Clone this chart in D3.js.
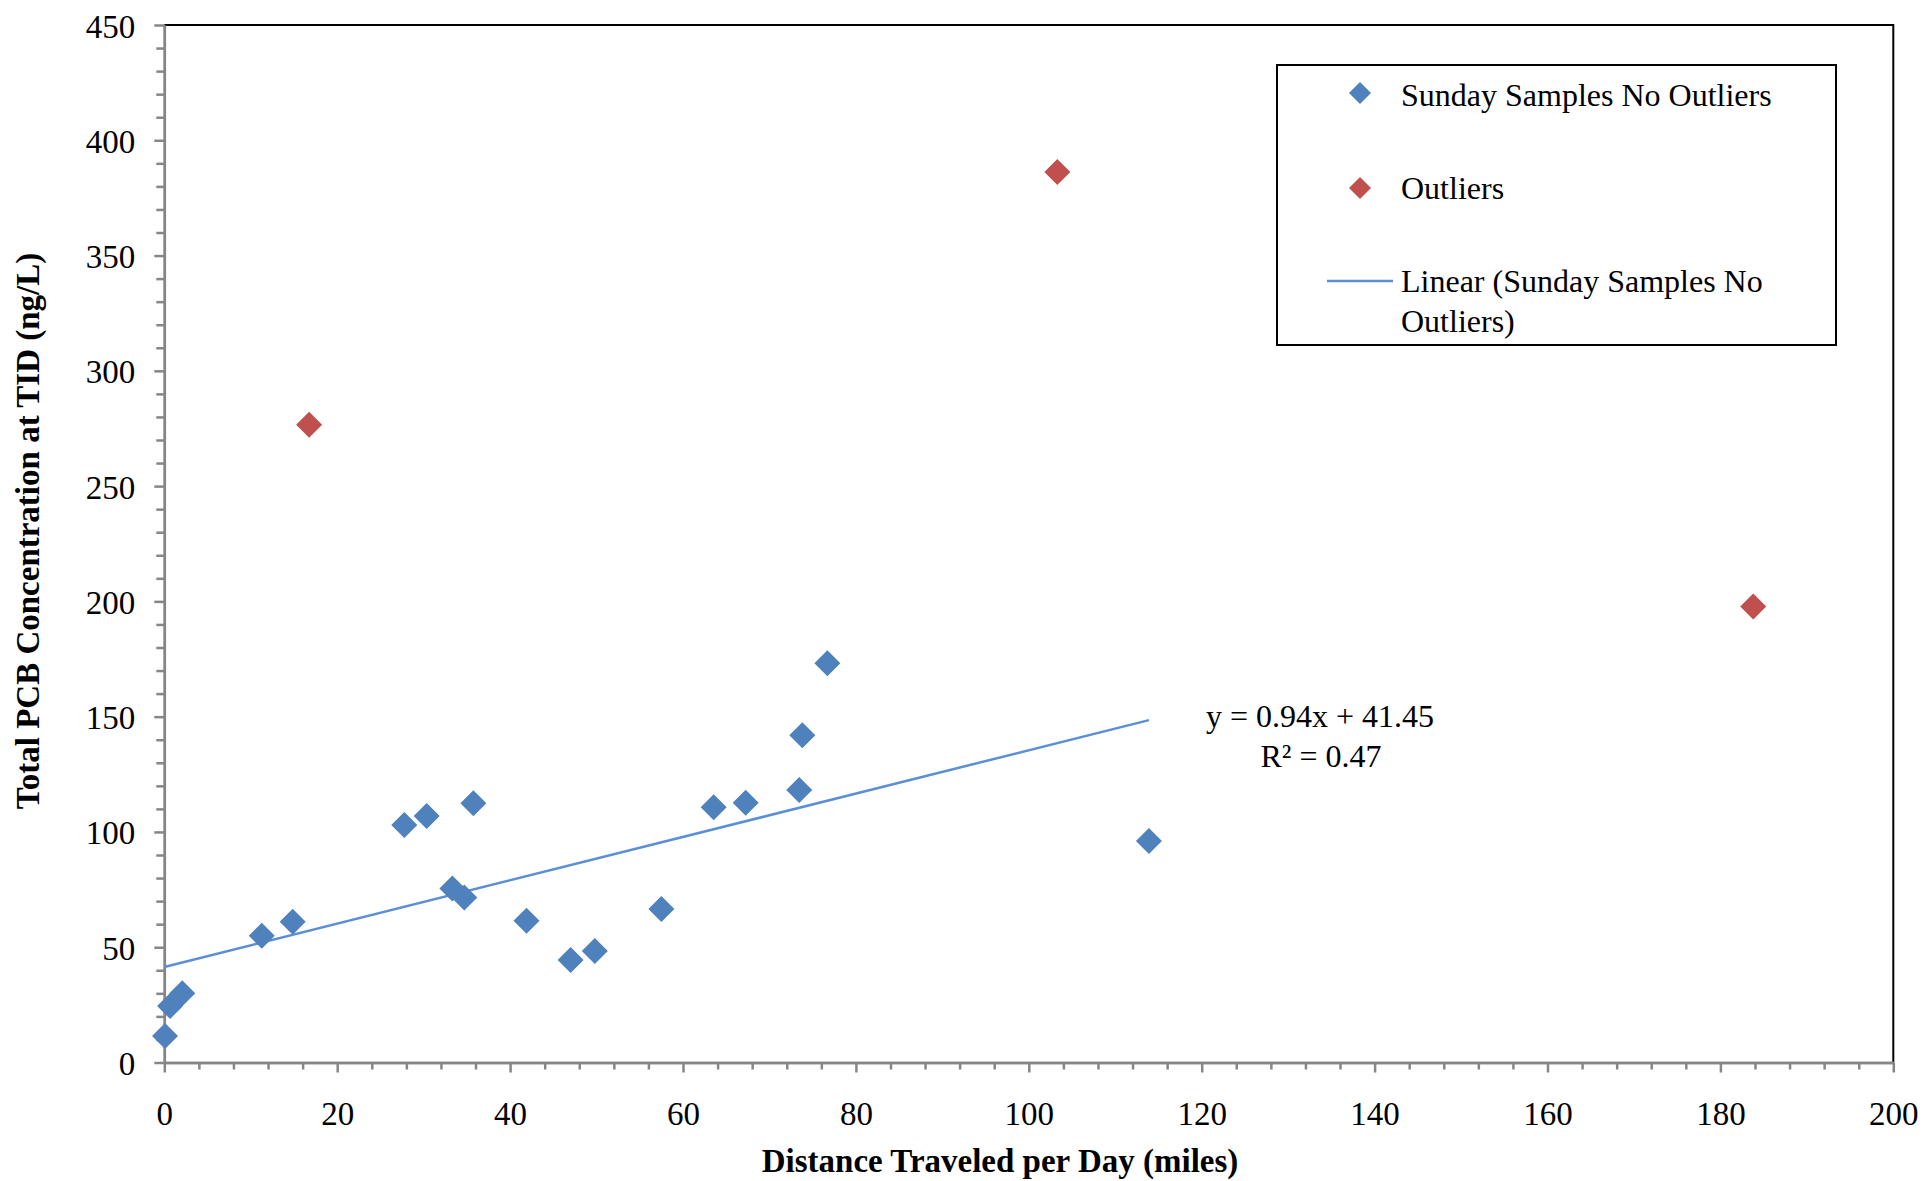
<!DOCTYPE html>
<html>
<head>
<meta charset="utf-8">
<script src="https://cdn.jsdelivr.net/npm/d3@7"></script>
<style>
  html, body { margin: 0; padding: 0; background: #fff; }
  svg { display: block; font-family: "Liberation Serif", "Times New Roman", serif; }
  svg text { font-family: "Liberation Serif", "Times New Roman", serif; }
</style>
</head>
<body>
<svg id="chart" width="1925" height="1181"></svg>
<script>
// ---------- data ----------
const sundayX = [0.08, 0.67, 2.08, 11.27, 14.85, 27.76, 30.35, 35.75, 33.32, 34.7, 41.9, 47.0, 49.8, 57.5, 63.55, 67.25, 73.45, 73.8, 76.7, 113.9];
const sundayY = [11.5, 24.5, 30.0, 55.0, 61.1, 103.0, 106.9, 112.4, 75.5, 71.6, 61.5, 44.5, 48.4, 66.6, 110.7, 112.7, 118.2, 141.9, 173.2, 96.1];
const outlierX = [16.75, 103.3, 183.8];
const outlierY = [276.6, 386.2, 197.8];
const trendSlope = 0.94;
const trendIntercept = 41.45;
const trendR2 = 0.47;
const xMajorTicks = [0, 20, 40, 60, 80, 100, 120, 140, 160, 180, 200];
const yMajorTicks = [0, 50, 100, 150, 200, 250, 300, 350, 400, 450];
const xMinorStep = 4;
const yMinorStep = 10;
const xTitle = "Distance Traveled per Day (miles)";
const yTitle = "Total PCB Concentration at TID (ng/L)";
const legendLabels = ["Sunday Samples No Outliers", "Outliers", ["Linear (Sunday Samples No", "Outliers)"]];

// ---------- styles ----------
const BLUE = "#4F81BD", RED = "#C0504D", TREND = "#5A8FD8", AXIS = "#868686";
const SERIF = "Liberation Serif, Times New Roman, serif";

const svg = d3.select("#chart");
svg.append("rect").attr("width", 1925).attr("height", 1181).attr("fill", "#fff");

const x = d3.scaleLinear().domain([0, 200]).range([164.3, 1893.3]);
const y = d3.scaleLinear().domain([0, 450]).range([1062.5, 25]);

// plot border (top/right)
svg.append("path")
  .attr("d", `M${x(0)},${y(450)}H${x(200)}V${y(0)}`)
  .attr("fill", "none").attr("stroke", "#000").attr("stroke-width", 2);

// minor ticks
const xMinor = d3.range(0, 200 + 0.001, xMinorStep).filter(v => !xMajorTicks.includes(v));
const yMinor = d3.range(0, 450 + 0.001, yMinorStep).filter(v => !yMajorTicks.includes(v));

const gxMinor = svg.append("g").attr("transform", `translate(0,${y(0)})`)
  .call(d3.axisBottom(x).tickValues(xMinor).tickSize(7).tickSizeOuter(0).tickFormat(""));
const gyMinor = svg.append("g").attr("transform", `translate(${x(0)},0)`)
  .call(d3.axisLeft(y).tickValues(yMinor).tickSize(8).tickSizeOuter(0).tickFormat(""));

const gx = svg.append("g").attr("transform", `translate(0,${y(0)})`)
  .call(d3.axisBottom(x).tickValues(xMajorTicks).tickSize(10).tickSizeOuter(0).tickFormat(d3.format("d")));
const gy = svg.append("g").attr("transform", `translate(${x(0)},0)`)
  .call(d3.axisLeft(y).tickValues(yMajorTicks).tickSize(10).tickSizeOuter(0).tickFormat(d3.format("d")));

[gxMinor, gyMinor, gx, gy].forEach(g => {
  g.attr("font-family", SERIF).attr("font-size", 33);
  g.selectAll("path.domain").attr("stroke", AXIS).attr("stroke-width", 2.5);
  g.selectAll(".tick line").attr("stroke", AXIS).attr("stroke-width", 2.5);
});
gx.selectAll(".tick text").attr("y", 62).attr("dy", 0).attr("fill", "#000");
gy.selectAll(".tick text").attr("x", -29).attr("dy", 0).attr("y", 12).attr("fill", "#000");

// trendline
const xMax = d3.max(sundayX);
svg.append("path")
  .datum([0, xMax])
  .attr("d", d3.line().x(d => x(d)).y(d => y(trendSlope * d + trendIntercept)))
  .attr("fill", "none").attr("stroke", TREND).attr("stroke-width", 2.5);

// diamonds
const diamond = d3.symbol().type(d3.symbolSquare).size(338);
const sunday = sundayX.map((v, i) => ({x: v, y: sundayY[i]}));
const outliers = outlierX.map((v, i) => ({x: v, y: outlierY[i]}));
svg.append("g").selectAll("path").data(sunday).join("path")
  .attr("d", diamond)
  .attr("transform", d => `translate(${x(d.x)},${y(d.y)}) rotate(45)`)
  .attr("fill", BLUE);
svg.append("g").selectAll("path").data(outliers).join("path")
  .attr("d", diamond)
  .attr("transform", d => `translate(${x(d.x)},${y(d.y)}) rotate(45)`)
  .attr("fill", RED);

// equation
const eq = svg.append("text").attr("text-anchor", "middle").attr("font-size", 32).attr("fill", "#000");
eq.append("tspan").attr("x", 1320).attr("y", 727).text(`y = ${trendSlope}x + ${trendIntercept}`);
eq.append("tspan").attr("x", 1321).attr("y", 767).text(`R² = ${trendR2}`);

// axis titles
svg.append("text").attr("x", 1000).attr("y", 1172).attr("text-anchor", "middle")
  .attr("font-size", 33).attr("font-weight", "bold").attr("fill", "#000").text(xTitle);
svg.append("text").attr("transform", "translate(39,531) rotate(-90)").attr("text-anchor", "middle")
  .attr("font-size", 33).attr("font-weight", "bold").attr("fill", "#000").text(yTitle);

// legend
const lg = svg.append("g");
lg.append("rect").attr("x", 1277).attr("y", 65).attr("width", 559).attr("height", 280)
  .attr("fill", "#fff").attr("stroke", "#000").attr("stroke-width", 2);
const legDiamond = d3.symbol().type(d3.symbolSquare).size(242);
lg.append("path").attr("d", legDiamond).attr("transform", "translate(1360,93) rotate(45)").attr("fill", BLUE);
lg.append("path").attr("d", legDiamond).attr("transform", "translate(1360,188) rotate(45)").attr("fill", RED);
lg.append("line").attr("x1", 1327).attr("x2", 1393).attr("y1", 281).attr("y2", 281)
  .attr("stroke", TREND).attr("stroke-width", 2.5);
lg.append("text").attr("x", 1401).attr("y", 106).attr("font-size", 32).text(legendLabels[0]);
lg.append("text").attr("x", 1401).attr("y", 199).attr("font-size", 32).text(legendLabels[1]);
const lt = lg.append("text").attr("font-size", 32);
lt.append("tspan").attr("x", 1401).attr("y", 292).text(legendLabels[2][0]);
lt.append("tspan").attr("x", 1401).attr("y", 332).text(legendLabels[2][1]);
</script>
</body>
</html>
